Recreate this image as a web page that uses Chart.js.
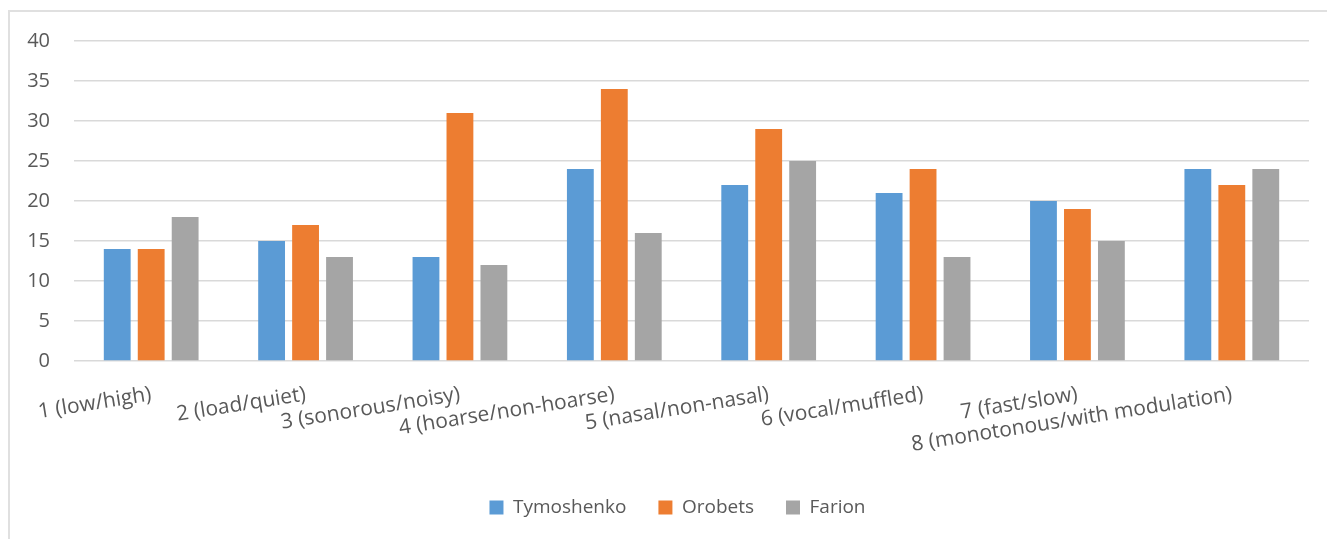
<!DOCTYPE html>
<html>
<head>
<meta charset="utf-8">
<script src="https://cdn.jsdelivr.net/npm/chart.js@4/dist/chart.umd.min.js"></script>
<style>
  html, body { margin: 0; padding: 0; background: #ffffff; overflow: hidden; }
  #frame {
    position: absolute; left: 8px; top: 10px; width: 1340px; height: 560px;
    border: 2px solid #e0e0e0; box-sizing: border-box;
  }
  #chart { position: absolute; left: 0; top: 0; }
</style>
</head>
<body>
<div id="frame"></div>
<canvas id="chart" width="1327" height="539"></canvas>
<script>
// Voice characteristic scales
const categories = [
  '1 (low/high)',
  '2 (load/quiet)',
  '3 (sonorous/noisy)',
  '4 (hoarse/non-hoarse)',
  '5 (nasal/non-nasal)',
  '6 (vocal/muffled)',
  '7 (fast/slow)',
  '8 (monotonous/with modulation)'
];

const tymoshenko = [14, 15, 13, 24, 22, 21, 20, 24];
const orobets    = [14, 17, 31, 34, 29, 24, 19, 22];
const farion     = [18, 13, 12, 16, 25, 13, 15, 24];

const yTicks = [0, 5, 10, 15, 20, 25, 30, 35, 40];

const textColor = '#595959';
const gridColor = '#d9d9d9';

Chart.defaults.font.family = "'Open Sans', sans-serif";
Chart.defaults.color = textColor;

// Centre the legend under the framed panel rather than the whole canvas
const legendShift = {
  id: 'legendShift',
  afterLayout(chart) {
    const lg = chart.legend;
    if (lg) { lg.left += 23; lg.right += 23; }
  }
};

new Chart(document.getElementById('chart'), {
  type: 'bar',
  data: {
    labels: categories,
    datasets: [
      { label: 'Tymoshenko', data: tymoshenko, backgroundColor: '#5b9bd5' },
      { label: 'Orobets',    data: orobets,    backgroundColor: '#ed7d31' },
      { label: 'Farion',     data: farion,     backgroundColor: '#a5a5a5' }
    ]
  },
  plugins: [legendShift],
  options: {
    responsive: false,
    devicePixelRatio: 1,
    animation: false,
    categoryPercentage: 0.66,
    barPercentage: 0.79,
    layout: { padding: { top: 41, right: 18, left: 0, bottom: 12 } },
    plugins: {
      tooltip: { enabled: false },
      legend: {
        position: 'bottom',
        labels: {
          boxWidth: 14,
          boxHeight: 14,
          padding: 32,
          color: textColor,
          font: { size: 19 }
        }
      }
    },
    scales: {
      x: {
        grid: { display: false, drawTicks: false },
        border: { display: false },
        ticks: {
          autoSkip: false,
          minRotation: 9,
          maxRotation: 9,
          padding: 21,
          color: textColor,
          font: { size: 21 }
        },
        afterFit(scale) { scale.height = 105; }
      },
      y: {
        min: 0,
        max: 40,
        afterBuildTicks(scale) { scale.ticks = yTicks.map(v => ({ value: v })); },
        grid: { color: gridColor, lineWidth: 1.5, drawTicks: false },
        border: { display: false },
        ticks: {
          padding: 24,
          color: textColor,
          font: { size: 20 }
        },
        afterFit(scale) { scale.width = 74; }
      }
    }
  }
});
</script>
</body>
</html>
